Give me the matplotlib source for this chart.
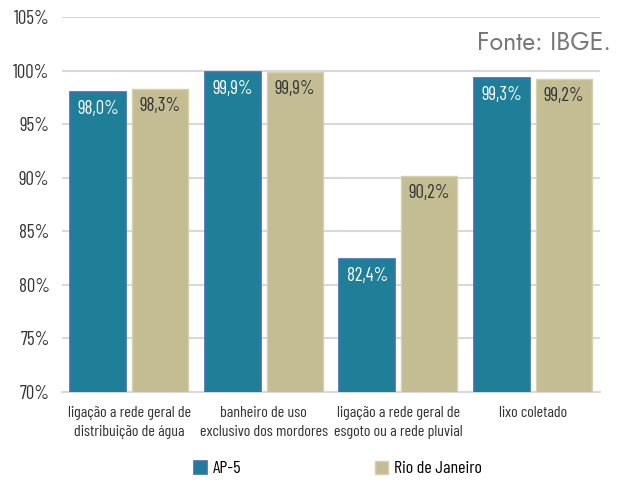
import matplotlib
matplotlib.use("Agg")
import matplotlib.pyplot as plt
import numpy as np

categories = ["ligação a rede geral de\ndistribuição de água",
              "banheiro de uso\nexclusivo dos mordores",
              "ligação a rede geral de\nesgoto ou a rede pluvial",
              "lixo coletado"]
ap5 = [98.0, 99.9, 82.4, 99.3]
rio = [98.3, 99.9, 90.2, 99.2]
series_names = ["AP-5", "Rio de Janeiro"]
yticks = [70, 75, 80, 85, 90, 95, 100, 105]

plt.rcParams['font.family'] = ['Barlow Condensed', 'DejaVu Sans']

fig = plt.figure(figsize=(6.22, 4.84), dpi=100)
ax = fig.add_axes([0.0997, 0.19, 0.865, 0.775])

x = np.arange(len(categories))
w = 0.415
gap = 0.045
b1 = ax.bar(x - w/2 - gap/2, ap5, w, bottom=0, color="#1f7f99", edgecolor="#3f6db3", linewidth=1.2, label=series_names[0], zorder=3)
b2 = ax.bar(x + w/2 + gap/2, rio, w, bottom=0, color="#c4bd94", edgecolor="#d6d0ac", linewidth=1.0, label=series_names[1], zorder=3)

def fmt(v):
    return f"{v:.1f}%".replace(".", ",")

for xi, v in zip(x - w/2 - gap/2, ap5):
    ax.annotate(fmt(v), (xi, v), xytext=(0, -6), textcoords="offset points",
                ha="center", va="top", color="white", fontsize=13.5, zorder=4)
for xi, v in zip(x + w/2 + gap/2, rio):
    ax.annotate(fmt(v), (xi, v), xytext=(0, -6), textcoords="offset points",
                ha="center", va="top", color="#333333", fontsize=13.5, zorder=4)

ax.set_ylim(70, 105)
ax.set_xlim(-0.5, len(categories) - 0.5)
ax.set_yticks(yticks)
ax.set_yticklabels([f"{t}%" for t in yticks], fontsize=13.5, color="#333333")
ax.set_xticks(x)
ax.set_xticklabels(categories, fontsize=11.5, color="#333333", linespacing=1.45)
ax.tick_params(axis="y", length=0, pad=9)
ax.tick_params(axis="x", length=0, pad=10)
ax.grid(axis="y", color="#d9d9d9", linewidth=1.5, zorder=0)
for s in ["top", "right", "left"]:
    ax.spines[s].set_visible(False)
ax.spines["bottom"].set_color("#d9d9d9")
ax.spines["bottom"].set_linewidth(1.5)

fig.text(0.982, 0.912, "Fonte: IBGE.", ha="right", va="center", fontsize=18,
         color="#777777", family=["Jost", "DejaVu Sans"], fontweight="light")

fig.legend(handles=[b1, b2], labels=series_names, loc="center", bbox_to_anchor=(0.543, 0.032),
           ncol=2, frameon=False, fontsize=13, handlelength=0.75, handleheight=0.75,
           columnspacing=7.4, handletextpad=0.3)

fig.savefig("out.png", dpi=100)
